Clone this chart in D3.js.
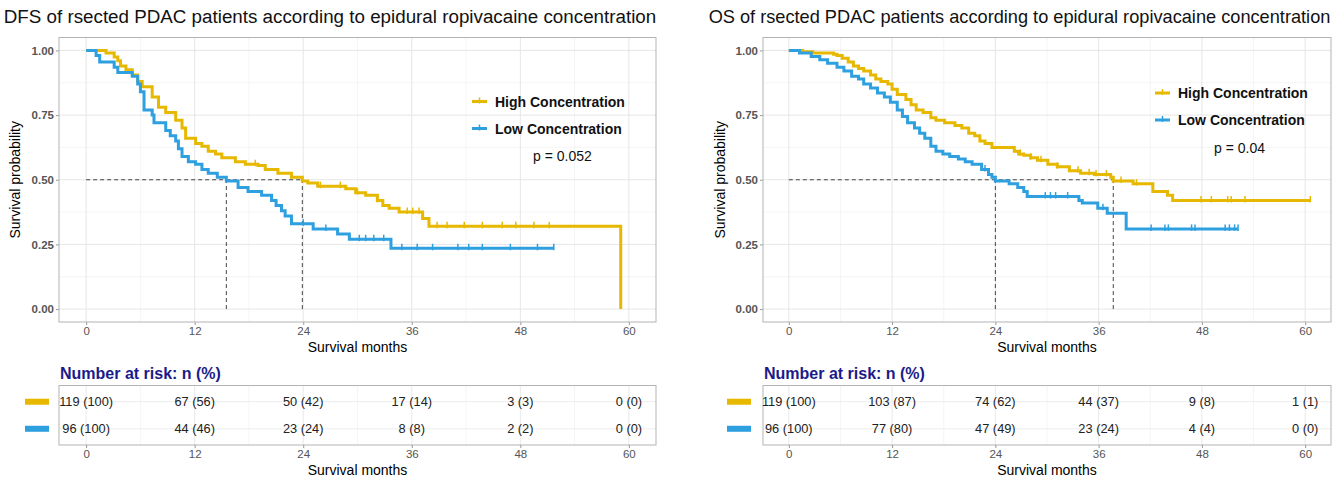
<!DOCTYPE html>
<html>
<head>
<meta charset="utf-8">
<script src="https://cdn.jsdelivr.net/npm/d3@7"></script>
<style>
  body { margin: 0; background: #fff; }
  svg { font-family: "Liberation Sans", Arial, sans-serif; }
</style>
</head>
<body>
<svg id="chart" width="1337" height="480"></svg>
<script>
// ---- data ----
var monthTicks = [0, 12, 24, 36, 48, 60];
var minorMonths = [6, 18, 30, 42, 54];
var survTicks = [0, 0.25, 0.5, 0.75, 1];
var minorSurv = [0.125, 0.375, 0.625, 0.875];
var groupNames = ['High Concentration', 'Low Concentration'];
var groupColors = ['#E7B800', '#2E9FDF'];

// DFS - high concentration
var dfsHighTime = [2.2, 3.1, 3.5, 3.8, 4.4, 5.1, 5.7, 6.2, 7.3, 8.0, 8.8, 9.9, 10.6, 11.0, 12.1, 12.8, 13.5, 14.3, 15.0, 16.5, 17.6, 19.0, 19.8, 21.2, 22.7, 23.9, 24.5, 25.6, 28.7, 29.8, 30.9, 32.2, 32.8, 33.5, 34.6, 37.2, 37.9, 59.1];
var dfsHighSurv = [0.99, 0.975, 0.96, 0.94, 0.925, 0.905, 0.88, 0.86, 0.82, 0.78, 0.76, 0.73, 0.70, 0.66, 0.64, 0.63, 0.61, 0.60, 0.585, 0.57, 0.56, 0.555, 0.54, 0.525, 0.51, 0.495, 0.487, 0.475, 0.465, 0.45, 0.44, 0.42, 0.40, 0.39, 0.375, 0.35, 0.32, 0];
var dfsHighEnd = 59.1;
var dfsHighCensor = [18.7, 25.9, 28.1, 30.0, 32.2, 35.5, 36.1, 36.8, 38.8, 39.9, 41.8, 43.8, 46.0, 47.5, 49.5, 51.2];

// DFS - low concentration
var dfsLowTime = [1.1, 1.5, 3.1, 3.5, 5.1, 5.7, 6.0, 6.4, 7.3, 7.5, 8.8, 9.3, 9.9, 10.2, 10.6, 11.3, 12.1, 12.8, 13.5, 14.5, 15.5, 16.8, 17.9, 19.4, 20.5, 21.0, 21.6, 22.0, 22.7, 25.1, 27.8, 29.1, 33.7];
var dfsLowSurv = [0.98, 0.955, 0.935, 0.915, 0.90, 0.87, 0.84, 0.77, 0.75, 0.72, 0.69, 0.67, 0.65, 0.62, 0.59, 0.57, 0.56, 0.54, 0.525, 0.51, 0.495, 0.47, 0.455, 0.44, 0.42, 0.40, 0.38, 0.36, 0.33, 0.31, 0.29, 0.27, 0.235];
var dfsLowEnd = 51.7;
var dfsLowCensor = [24.0, 26.5, 30.2, 30.9, 31.8, 32.9, 34.9, 36.6, 38.3, 41.1, 42.3, 43.8, 46.9, 49.9, 51.7];

// OS - high concentration
var osHighTime = [1.6, 2.8, 5.2, 5.6, 6.2, 6.9, 7.5, 8.1, 8.7, 9.5, 10.1, 10.7, 11.5, 12.0, 12.6, 13.6, 14.2, 14.8, 15.6, 16.5, 17.1, 18.1, 19.3, 20.1, 20.9, 21.6, 22.2, 22.8, 23.6, 26.2, 26.7, 27.3, 28.1, 28.9, 30.1, 31.2, 32.6, 33.9, 35.5, 37.4, 37.7, 40.0, 42.3, 44.0, 44.6];
var osHighSurv = [0.995, 0.99, 0.985, 0.98, 0.97, 0.955, 0.94, 0.93, 0.92, 0.905, 0.89, 0.88, 0.87, 0.85, 0.83, 0.81, 0.79, 0.77, 0.76, 0.74, 0.73, 0.72, 0.71, 0.70, 0.68, 0.67, 0.65, 0.64, 0.625, 0.61, 0.60, 0.595, 0.585, 0.575, 0.56, 0.55, 0.535, 0.525, 0.52, 0.51, 0.495, 0.485, 0.455, 0.44, 0.42];
var osHighEnd = 60.6;
var osHighCensor = [26.9, 28.1, 29.3, 31.2, 33.6, 34.9, 35.7, 36.9, 38.6, 40.4, 47.9, 49.1, 51.0, 51.4, 53.0, 60.6];

// OS - low concentration
var osLowTime = [1.25, 2.6, 3.6, 4.5, 5.6, 6.4, 7.3, 8.1, 8.7, 9.5, 10.3, 11.1, 11.8, 12.6, 13.2, 13.8, 14.6, 15.2, 15.8, 16.5, 17.1, 17.9, 18.7, 19.7, 20.5, 21.3, 22.4, 23.2, 23.6, 24.0, 25.6, 26.6, 27.3, 27.7, 33.7, 34.1, 35.9, 37.0, 39.2];
var osLowSurv = [0.99, 0.977, 0.964, 0.95, 0.935, 0.92, 0.90, 0.89, 0.87, 0.855, 0.835, 0.82, 0.80, 0.77, 0.745, 0.72, 0.70, 0.68, 0.66, 0.63, 0.61, 0.60, 0.59, 0.58, 0.57, 0.56, 0.54, 0.52, 0.51, 0.495, 0.485, 0.47, 0.455, 0.435, 0.42, 0.41, 0.39, 0.37, 0.31];
var osLowEnd = 52.2;
var osLowCensor = [22.8, 29.8, 30.4, 31.0, 32.4, 36.5, 42.1, 43.7, 44.1, 46.8, 47.2, 50.7, 51.2, 51.8, 52.2];

// number at risk, n and (%)
var dfsRiskHigh = [119, 67, 50, 17, 3, 0];
var dfsRiskHighPct = [100, 56, 42, 14, 3, 0];
var dfsRiskLow = [96, 44, 23, 8, 2, 0];
var dfsRiskLowPct = [100, 46, 24, 8, 2, 0];
var osRiskHigh = [119, 103, 74, 44, 9, 1];
var osRiskHighPct = [100, 87, 62, 37, 8, 1];
var osRiskLow = [96, 77, 47, 23, 4, 0];
var osRiskLowPct = [100, 80, 49, 24, 4, 0];

var svg = d3.select('#chart');

// survival value at time t (step function)
function survAt(c, t) {
	var s = 1;
	c.time.forEach(function (ti, i) { if (ti <= t) s = c.surv[i]; });
	return s;
}

function drawPanel(o) {
	var top = 37.5, bottom = 322;
	var x = d3.scaleLinear().domain([-3, 63]).range([o.x0, o.x1]);
	var y = d3.scaleLinear().domain([-0.05, 1.05]).range([bottom, top]);
	var g = svg.append('g');

	// title
	g.append('text')
		.attr('x', o.titleX).attr('y', 23)
		.attr('text-anchor', 'middle')
		.style('font-size', o.titleSize)
		.attr('fill', '#111')
		.text(o.title);

	// grid lines
	var grid = g.append('g');
	grid.selectAll('.vminor').data(minorMonths).enter().append('line')
		.attr('x1', x).attr('x2', x).attr('y1', top).attr('y2', bottom)
		.attr('stroke', '#F3F3F3').attr('stroke-width', 0.8);
	grid.selectAll('.hminor').data(minorSurv).enter().append('line')
		.attr('x1', o.x0).attr('x2', o.x1).attr('y1', y).attr('y2', y)
		.attr('stroke', '#F3F3F3').attr('stroke-width', 0.8);
	grid.selectAll('.vmajor').data(monthTicks).enter().append('line')
		.attr('x1', x).attr('x2', x).attr('y1', top).attr('y2', bottom)
		.attr('stroke', '#E6E6E6').attr('stroke-width', 1);
	grid.selectAll('.hmajor').data(survTicks).enter().append('line')
		.attr('x1', o.x0).attr('x2', o.x1).attr('y1', y).attr('y2', y)
		.attr('stroke', '#E6E6E6').attr('stroke-width', 1);

	// axes
	var xAxis = g.append('g')
		.attr('transform', 'translate(0,' + bottom + ')')
		.call(d3.axisBottom(x).tickValues(monthTicks).tickSize(3).tickPadding(2));
	var yAxis = g.append('g')
		.attr('transform', 'translate(' + o.x0 + ',0)')
		.call(d3.axisLeft(y).tickValues(survTicks).tickFormat(d3.format('.2f')).tickSize(3).tickPadding(2));
	[xAxis, yAxis].forEach(function (a) {
		a.select('.domain').remove();
		a.selectAll('line').attr('stroke', '#999');
		a.selectAll('text').attr('fill', '#555').style('font-size', '11.5px');
	});
	yAxis.selectAll('text').style('font-weight', 'bold');

	// axis titles
	g.append('text')
		.attr('x', (o.x0 + o.x1) / 2).attr('y', 351.5)
		.attr('text-anchor', 'middle').style('font-size', '14px')
		.text('Survival months');
	g.append('text')
		.attr('transform', 'translate(' + o.yTitleX + ',' + ((top + bottom) / 2) + ') rotate(-90)')
		.attr('text-anchor', 'middle').style('font-size', '14px')
		.text('Survival probability');

	// median lines
	var medians = o.curves.map(function (c) {
		var i = c.surv.findIndex(function (s) { return s <= 0.5; });
		return c.time[i];
	});
	var dash = g.append('g').attr('stroke', '#444').attr('stroke-width', 1).attr('stroke-dasharray', '4,3');
	dash.append('line')
		.attr('x1', x(0)).attr('x2', x(d3.max(medians)))
		.attr('y1', y(0.5)).attr('y2', y(0.5));
	dash.selectAll('.vmed').data(medians).enter().append('line')
		.attr('x1', x).attr('x2', x).attr('y1', y(0)).attr('y2', y(0.5));

	// survival curves
	var line = d3.line()
		.x(function (d) { return x(d[0]); })
		.y(function (d) { return y(d[1]); })
		.curve(d3.curveStepAfter);
	o.curves.forEach(function (c) {
		var pts = [[0, 1]];
		c.time.forEach(function (t, i) { pts.push([t, c.surv[i]]); });
		pts.push([c.end, c.surv[c.surv.length - 1]]);
		g.append('path').datum(pts)
			.attr('d', line)
			.attr('fill', 'none')
			.attr('stroke', c.color)
			.attr('stroke-width', 3);
		g.selectAll(null).data(c.censor).enter().append('line')
			.attr('x1', x).attr('x2', x)
			.attr('y1', function (t) { return y(survAt(c, t)) - 4.5; })
			.attr('y2', function (t) { return y(survAt(c, t)) + 2; })
			.attr('stroke', c.color).attr('stroke-width', 1.5);
	});

	// panel border
	g.append('rect')
		.attr('x', o.x0).attr('y', top).attr('width', o.x1 - o.x0).attr('height', bottom - top)
		.attr('fill', 'none').attr('stroke', '#B3B3B3').attr('stroke-width', 1);

	// legend
	groupNames.forEach(function (name, i) {
		var ly = o.legendY + i * 27;
		g.append('line')
			.attr('x1', o.legendX).attr('x2', o.legendX + 15)
			.attr('y1', ly).attr('y2', ly)
			.attr('stroke', groupColors[i]).attr('stroke-width', 3);
		g.append('line')
			.attr('x1', o.legendX + 7.5).attr('x2', o.legendX + 7.5)
			.attr('y1', ly - 4).attr('y2', ly + 2)
			.attr('stroke', groupColors[i]).attr('stroke-width', 1.5);
		g.append('text')
			.attr('x', o.legendX + 23).attr('y', ly + 5)
			.style('font-size', '14px').style('font-weight', 'bold')
			.attr('fill', '#111')
			.text(name);
	});
	g.append('text')
		.attr('x', o.pX).attr('y', o.pY)
		.style('font-size', '14px').attr('fill', '#111')
		.text(o.pText);

	// risk table
	var tTop = 385.5, tBottom = 445;
	var ry = d3.scalePoint().domain([0, 1]).range([tTop, tBottom]).padding(0.6);
	g.append('text')
		.attr('x', o.x0 + 1).attr('y', 378.5)
		.style('font-size', '16px').style('font-weight', 'bold')
		.attr('fill', '#1B1B8A')
		.text('Number at risk: n (%)');
	var tgrid = g.append('g');
	tgrid.selectAll('.tvminor').data(minorMonths).enter().append('line')
		.attr('x1', x).attr('x2', x).attr('y1', tTop).attr('y2', tBottom)
		.attr('stroke', '#F3F3F3').attr('stroke-width', 0.8);
	tgrid.selectAll('.tvmajor').data(monthTicks).enter().append('line')
		.attr('x1', x).attr('x2', x).attr('y1', tTop).attr('y2', tBottom)
		.attr('stroke', '#E9E9E9').attr('stroke-width', 1);
	tgrid.selectAll('.thmajor').data([0, 1]).enter().append('line')
		.attr('x1', o.x0).attr('x2', o.x1).attr('y1', ry).attr('y2', ry)
		.attr('stroke', '#EDEDED').attr('stroke-width', 1);
	g.append('rect')
		.attr('x', o.x0).attr('y', tTop).attr('width', o.x1 - o.x0).attr('height', tBottom - tTop)
		.attr('fill', 'none').attr('stroke', '#B3B3B3').attr('stroke-width', 1);

	o.risk.forEach(function (r, gi) {
		g.append('rect')
			.attr('x', o.riskBarX).attr('y', ry(gi) - 3)
			.attr('width', 24).attr('height', 6)
			.attr('fill', groupColors[gi]);
		g.selectAll(null).data(monthTicks).enter().append('text')
			.attr('x', x)
			.attr('y', ry(gi) + 4.5)
			.attr('text-anchor', 'middle')
			.style('font-size', '12.8px').attr('fill', '#222')
			.text(function (t, i) { return r.n[i] + ' (' + r.pct[i] + ')'; });
	});

	var tAxis = g.append('g')
		.attr('transform', 'translate(0,' + tBottom + ')')
		.call(d3.axisBottom(x).tickValues(monthTicks).tickSize(3).tickPadding(2));
	tAxis.select('.domain').remove();
	tAxis.selectAll('line').attr('stroke', '#999');
	tAxis.selectAll('text').attr('fill', '#555').style('font-size', '11.5px');
	g.append('text')
		.attr('x', (o.x0 + o.x1) / 2).attr('y', 475)
		.attr('text-anchor', 'middle').style('font-size', '14px')
		.text('Survival months');
}

drawPanel({
	x0: 59, x1: 656, titleX: 330, yTitleX: 20, titleSize: '18.8px',
	title: 'DFS of rsected PDAC patients according to epidural ropivacaine concentration',
	curves: [
		{ time: dfsHighTime, surv: dfsHighSurv, end: dfsHighEnd, censor: dfsHighCensor, color: groupColors[0] },
		{ time: dfsLowTime, surv: dfsLowSurv, end: dfsLowEnd, censor: dfsLowCensor, color: groupColors[1] }
	],
	legendX: 472, legendY: 101.5,
	pText: 'p = 0.052', pX: 533, pY: 161,
	risk: [{ n: dfsRiskHigh, pct: dfsRiskHighPct }, { n: dfsRiskLow, pct: dfsRiskLowPct }],
	riskBarX: 25
});

drawPanel({
	x0: 763, x1: 1331, titleX: 1019.5, yTitleX: 725, titleSize: '18.2px',
	title: 'OS of rsected PDAC patients according to epidural ropivacaine concentration',
	curves: [
		{ time: osHighTime, surv: osHighSurv, end: osHighEnd, censor: osHighCensor, color: groupColors[0] },
		{ time: osLowTime, surv: osLowSurv, end: osLowEnd, censor: osLowCensor, color: groupColors[1] }
	],
	legendX: 1155, legendY: 93,
	pText: 'p = 0.04', pX: 1214, pY: 153,
	risk: [{ n: osRiskHigh, pct: osRiskHighPct }, { n: osRiskLow, pct: osRiskLowPct }],
	riskBarX: 727
});
</script>
</body>
</html>
